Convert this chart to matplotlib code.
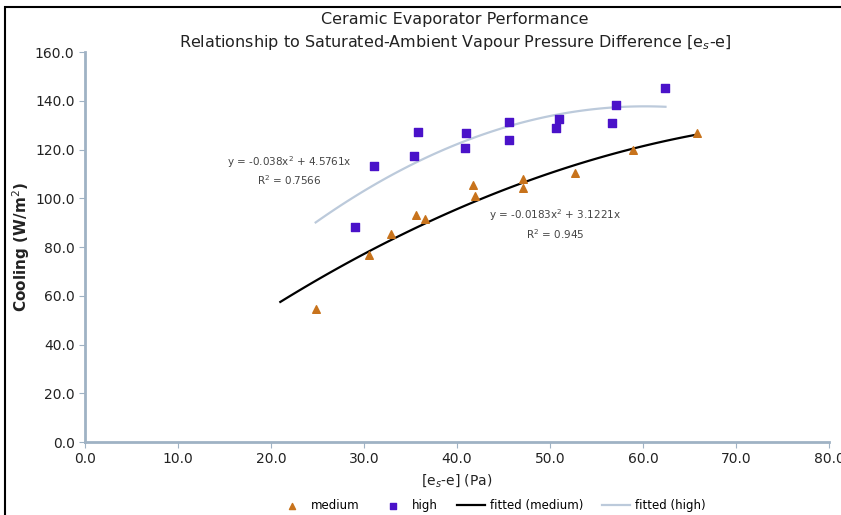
import numpy as np
import matplotlib
matplotlib.use("Agg")
import matplotlib.pyplot as plt
from matplotlib.patches import Rectangle
from matplotlib.ticker import FormatStrFormatter

medium_x = [24.8, 30.5, 32.9, 35.6, 36.6, 41.7, 41.9, 47.1, 47.1, 52.7, 58.9, 65.8]
medium_y = [54.6, 76.7, 85.3, 93.1, 91.5, 105.4, 100.9, 107.9, 104.2, 110.4, 119.8, 126.8]
high_x = [29.0, 31.1, 35.4, 35.8, 40.9, 41.0, 45.6, 45.6, 50.6, 51.0, 56.6, 57.1, 62.3]
high_y = [88.2, 113.2, 117.3, 127.2, 120.6, 126.8, 123.9, 131.3, 128.8, 132.5, 130.9, 138.3, 145.2]

# trendline coefficients shown on the chart (a*x^2 + b*x) and their x range
medium_fit = [-0.0183, 3.1221]
medium_fit_range = [21.0, 65.8]
high_fit = [-0.038, 4.5761]
high_fit_range = [24.8, 62.4]

plt.rcParams["font.family"] = ["DejaVu Sans"]
fig = plt.figure(figsize=(8.41, 5.15), dpi=100)
ax = fig.add_axes([0.101, 0.1417, 0.885, 0.757])

spine_col = "#9fb2c4"
orange = "#c8731c"
purple = "#4a12c9"
light = "#bccadb"

xm = np.linspace(medium_fit_range[0], medium_fit_range[1], 100)
xh = np.linspace(high_fit_range[0], high_fit_range[1], 100)

ax.scatter(medium_x, medium_y, marker="^", s=30, color=orange, zorder=3, label="medium")
ax.scatter(high_x, high_y, marker="s", s=34, color=purple, zorder=3, label="high")
ax.plot(xm, medium_fit[0] * xm**2 + medium_fit[1] * xm, color="black", lw=1.6, label="fitted (medium)")
ax.plot(xh, high_fit[0] * xh**2 + high_fit[1] * xh, color=light, lw=1.6, label="fitted (high)")

ax.text(22.0, 111.5, "y = -0.038x$^2$ + 4.5761x\nR$^2$ = 0.7566", ha="center", va="center",
        fontsize=7.5, color="#444444", linespacing=1.3)
ax.text(50.5, 89.5, "y = -0.0183x$^2$ + 3.1221x\nR$^2$ = 0.945", ha="center", va="center",
        fontsize=7.5, color="#444444", linespacing=1.3)

ax.set_xlim(0, 80)
ax.set_ylim(0, 160)
ax.set_xticks(np.arange(0, 81, 10))
ax.set_yticks(np.arange(0, 161, 20))
ax.xaxis.set_major_formatter(FormatStrFormatter("%.1f"))
ax.yaxis.set_major_formatter(FormatStrFormatter("%.1f"))
for s in ["top", "right"]:
    ax.spines[s].set_visible(False)
for s in ["left", "bottom"]:
    ax.spines[s].set_color(spine_col)
    ax.spines[s].set_linewidth(2)
ax.tick_params(axis="both", colors=spine_col, labelcolor="#222222", labelsize=10, length=4)

ax.set_xlabel("[e$_s$-e] (Pa)", fontsize=10, color="#222222", labelpad=4)
ax.set_ylabel("Cooling (W/m$^2$)", fontsize=11, fontweight="bold", color="#222222", labelpad=2)

fig.text(0.541, 0.963, "Ceramic Evaporator Performance", ha="center", va="center", fontsize=11.5, color="#222222")
fig.text(0.541, 0.917, "Relationship to Saturated-Ambient Vapour Pressure Difference [e$_s$-e]",
         ha="center", va="center", fontsize=11.5, color="#222222")

fig.legend(loc="center", bbox_to_anchor=(0.585, 0.018), ncol=4, frameon=False, fontsize=8.5,
           handlelength=2.4, handletextpad=0.4, columnspacing=1.6, markerscale=0.8)

# figure border (left and top edges visible)
fig.patches.append(Rectangle((5 / 841, -0.1), 1.2, (515 - 7) / 515 + 0.1, transform=fig.transFigure,
                             fill=False, edgecolor="black", lw=1.5))

fig.savefig("out.png", dpi=100)
